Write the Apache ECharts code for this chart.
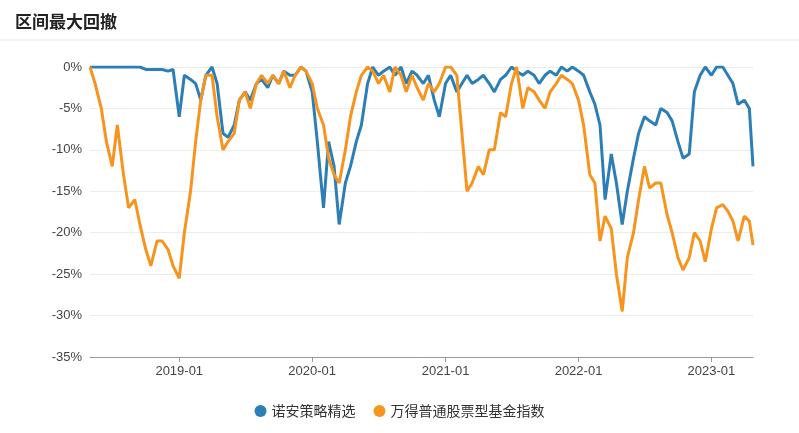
<!DOCTYPE html>
<html><head><meta charset="utf-8">
<script src="https://cdn.jsdelivr.net/npm/echarts@6/dist/echarts.min.js"></script>
<style>html,body{margin:0;padding:0;background:#fff}#c{width:799px;height:433px}</style>
</head><body><div id="c"></div>
<script>
const seriesNames = ['诺安策略精选', '万得普通股票型基金指数'];
// dates: half-month steps from 2018-05-01, plus last date
const dates = (function(){const d=[];for(let y=2018;y<=2023;y++){for(let m=1;m<=12;m++){for(const day of [1,15]){const s=y+'-'+String(m).padStart(2,'0')+'-'+String(day).padStart(2,'0');if(s>='2018-05-01'&&s<='2023-04-15')d.push(s);}}}d.push('2023-04-25');return d;})();
const fundValues = [0,0,0,0,0,0,0,0,0,0,-0.3,-0.3,-0.3,-0.3,-0.5,-0.3,-6,-1,-1.5,-2,-4,-1,0,-2,-8,-8.5,-7,-4,-3,-4,-2,-1.5,-2.5,-1,-2,-0.5,-1,-1,0,-0.5,-3,-9,-17,-9,-12,-19,-14,-12,-9,-7,-2,0,-1,-0.5,0,-1,0,-2,-0.5,-1,-2,-1,-4,-6,-2,-1,-3,-2,-1,-2,-1.5,-1,-2,-3,-1.5,-1,0,-0.5,-1,-0.5,-1,-2,-1,-0.5,-1,0,-0.5,0,-0.5,-1,-3,-4.5,-7,-16,-10.5,-14,-19,-15,-11,-8,-6,-6.5,-7,-5,-5.5,-6.5,-9,-11,-10.5,-3,-1,0,-1,0,0,-1,-2,-4.5,-4,-5,-12];
const indexValues = [0,-2,-5,-9,-12,-7,-13,-17,-16,-19,-22,-24,-21,-21,-22,-24,-25.5,-20,-15,-9,-4,-1,-1,-6,-10,-9,-8,-4,-3,-5,-2,-1,-2,-1,-2,-0.5,-2.5,-1,0,-0.5,-2,-5,-7,-11,-13,-14,-10,-6,-3,-1,0,-0.5,-2,-1,-3,0,-1,-3,-1,-2.5,-4,-2,-3,-2,0,0,-1,-8,-15,-14,-12,-13,-10,-10,-5.5,-6,-2,0,-5,-2.5,-3,-4,-5,-3,-2,-1,-1.5,-2,-4,-7,-13,-14,-21,-18,-19.5,-25,-29.5,-23,-20,-16,-12,-14.6,-14,-14,-17.8,-20,-23,-24.5,-23,-20,-21,-23.5,-19.5,-17,-16.6,-17.4,-18.6,-21,-18,-18.6,-21.5];
const yTicks = [0,-5,-10,-15,-20,-25,-30,-35];

const chart = echarts.init(document.getElementById('c'));
const toPairs = v => dates.map((d,i)=>[d,v[i]]);
chart.setOption({
  animation:false,
  title:{text:'区间最大回撤',left:10,top:8,textStyle:{fontSize:17,fontWeight:'bold',color:'#222',fontFamily:'Noto Sans CJK SC'}},
  graphic:[{type:'line',shape:{x1:0,y1:40,x2:799,y2:40},style:{stroke:'#e6e6e6',lineWidth:1}}],
  color:['#2b7fb6','#f7941d'],
  legend:{bottom:10,left:'center',itemGap:18,icon:'circle',itemWidth:12,itemHeight:12,
    textStyle:{fontSize:14,color:'#333',fontFamily:'Noto Sans CJK SC'},data:seriesNames},
  grid:{left:90,right:46,top:67,bottom:76},
  xAxis:{type:'time',min:'2018-05-01',max:'2023-04-25',minInterval:365*864e5,maxInterval:366*864e5,
    axisLine:{onZero:false,lineStyle:{color:'#999'}},axisTick:{show:true,lineStyle:{color:'#999'}},
    axisLabel:{formatter:'{yyyy}-{MM}',color:'#444',fontSize:13,showMinLabel:false,showMaxLabel:false},
    splitLine:{show:false}},
  yAxis:{type:'value',min:-35,max:0,interval:5,
    axisLabel:{formatter:'{value}%',color:'#444',fontSize:13},
    axisLine:{show:false},axisTick:{show:false},
    splitLine:{lineStyle:{color:'#ececec'}}},
  series:[
    {name:seriesNames[0],type:'line',data:toPairs(fundValues),showSymbol:false,lineStyle:{width:3},z:2},
    {name:seriesNames[1],type:'line',data:toPairs(indexValues),showSymbol:false,lineStyle:{width:3},z:3}
  ]
});
</script></body></html>
